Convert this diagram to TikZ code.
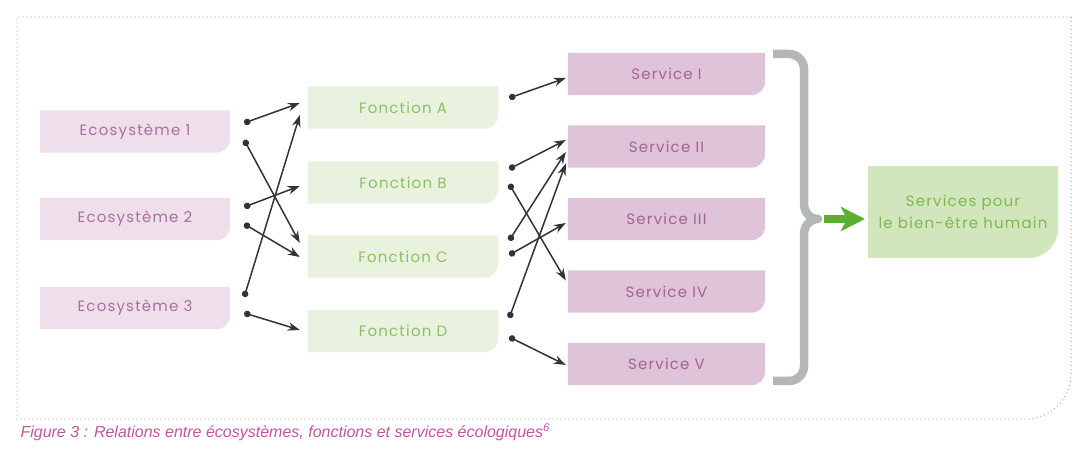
\documentclass[tikz,border=0pt]{standalone}
\usepackage{fontspec}
\setmainfont{Liberation Sans}
\newfontfamily\boxfont{Poppins}[LetterSpace=8]
\usetikzlibrary{arrows.meta,backgrounds}

\definecolor{ecofill}{HTML}{EEDFEB}
\definecolor{ecotext}{HTML}{A8709C}
\definecolor{srvfill}{HTML}{DFC3D8}
\definecolor{srvtext}{HTML}{A5638F}
\definecolor{fctfill}{HTML}{E9F1DF}
\definecolor{fcttext}{HTML}{8DC062}
\definecolor{finfill}{HTML}{D2E6BD}
\definecolor{fintext}{HTML}{7DB851}
\definecolor{linkgray}{HTML}{333333}
\definecolor{bracegray}{HTML}{B3B7B8}
\definecolor{arrowgreen}{HTML}{5CB030}
\definecolor{bordergray}{HTML}{A8A8A8}
\definecolor{captext}{HTML}{C0569B}

% box with only the lower right corner rounded
\newcommand\boxshape[2]{(#1.north west) -- (#1.north east) -- ([yshift=#2]#1.south east) arc[start angle=0,end angle=-90,radius=#2] -- (#1.south west) -- cycle}

\begin{document}
\begin{tikzpicture}[x=1pt,y=1pt,
    basebox/.style={minimum width=190pt, minimum height=42pt, inner sep=0pt, font=\boxfont\fontsize{15}{22}\selectfont},
    ecobox/.style={basebox, text=ecotext},
    fctbox/.style={basebox, text=fcttext},
    srvbox/.style={basebox, minimum width=197pt, text=srvtext},
    finbox/.style={basebox, minimum height=92pt, align=center, text=fintext},
    link/.style={draw=linkgray, line width=1.5pt, {Circle[length=6.5pt]}-{Stealth[length=12pt,width=8.5pt]}},
    bracket/.style={draw=bracegray, line width=8.5pt, line join=round},
    bigarrow/.style={draw=arrowgreen, line width=8pt, -{Stealth[length=24pt,width=24pt,inset=6pt]}},
    border/.style={draw=bordergray, line width=1.4pt, line cap=round, dash pattern=on 0pt off 4pt}]
    \useasboundingbox (0,0) rectangle (1074,457);

    % Frame
    \draw[border] (1071,440) -- (17,440) -- (17,38) -- (1026,38) arc[start angle=-90,end angle=0,radius=45] -- cycle;

    % Nodes
    \node[ecobox] (eco1) at (135,325.5) {Ecosystème 1};
    \node[ecobox] (eco2) at (135,238) {Ecosystème 2};
    \node[ecobox] (eco3) at (135,149) {Ecosystème 3};

    \node[fctbox] (fctA) at (403,349.5) {Fonction A};
    \node[fctbox] (fctB) at (403,274.5) {Fonction B};
    \node[fctbox] (fctC) at (403,200.5) {Fonction C};
    \node[fctbox] (fctD) at (403,126) {Fonction D};

    \node[srvbox] (srv1) at (666.5,383) {Service I};
    \node[srvbox] (srv2) at (666.5,310.5) {Service II};
    \node[srvbox] (srv3) at (666.5,238) {Service III};
    \node[srvbox] (srv4) at (666.5,165.5) {Service IV};
    \node[srvbox] (srv5) at (666.5,93) {Service V};

    \node[finbox] (fin) at (963,245) {Services pour\\le bien-être humain};

    \node[anchor=base west, text=captext, font=\itshape\fontsize{16}{18}\selectfont] (cap) at (17,19)
        {Figure 3 : Relations entre écosystèmes, fonctions et services écologiques\textsuperscript{6}};

    % Fills
    \begin{scope}[on background layer]
        \foreach \n in {eco1,eco2,eco3} \fill[ecofill] \boxshape{\n}{14pt};
        \foreach \n in {fctA,fctB,fctC,fctD} \fill[fctfill] \boxshape{\n}{14pt};
        \foreach \n in {srv1,srv2,srv3,srv4,srv5} \fill[srvfill] \boxshape{\n}{14pt};
        \fill[finfill] \boxshape{fin}{30pt};
    \end{scope}

    % Connection
    \draw[link] ([xshift=14pt,yshift=8.5pt]eco1.east) -- ([xshift=-8pt,yshift=4.5pt]fctA.west);
    \draw[link] ([xshift=14pt,yshift=-8.5pt]eco1.east) -- ([xshift=-8pt,yshift=13.5pt]fctC.west);
    \draw[link] ([xshift=14pt,yshift=12pt]eco2.east) -- ([xshift=-8pt,yshift=-3.5pt]fctB.west);
    \draw[link] ([xshift=14pt,yshift=-5pt]eco2.east) -- ([xshift=-8pt,yshift=-0.5pt]fctC.west);
    \draw[link] ([xshift=14pt,yshift=11pt]eco3.east) -- ([xshift=-8pt,yshift=-7.5pt]fctA.west);
    \draw[link] ([xshift=14pt,yshift=-5pt]eco3.east) -- ([xshift=-8pt,yshift=1pt]fctD.west);

    \draw[link] ([xshift=11pt,yshift=9.5pt]fctA.east) -- ([xshift=-2pt,yshift=-4pt]srv1.west);
    \draw[link] ([xshift=11pt,yshift=13.5pt]fctB.east) -- ([xshift=-2pt,yshift=6.5pt]srv2.west);
    \draw[link] ([xshift=11pt,yshift=-1.5pt]fctB.east) -- ([xshift=-2pt,yshift=11pt]srv4.west);
    \draw[link] ([xshift=11pt,yshift=16pt]fctC.east) -- ([xshift=-2pt,yshift=-5.5pt]srv2.west);
    \draw[link] ([xshift=11pt,yshift=1.5pt]fctC.east) -- ([xshift=-2pt,yshift=-4pt]srv3.west);
    \draw[link] ([xshift=11pt,yshift=13pt]fctD.east) -- ([xshift=-2pt,yshift=-17pt]srv2.west);
    \draw[link] ([xshift=11pt,yshift=-6pt]fctD.east) -- ([xshift=-2pt,yshift=-1pt]srv5.west);

    % Brace and arrow
    \draw[bracket] (773,403) -- (789,403) to[out=0,in=90] (804,388) -- (804,253)
        to[out=-90,in=180] (818,238) to[out=180,in=90] (804,223) -- (804,91)
        to[out=-90,in=0] (789,76) -- (773,76);
    \coordinate (brtip) at (824,238);
    \coordinate (artip) at (865,238);
    \draw[bigarrow] (brtip) -- (artip);
\end{tikzpicture}
\end{document}
